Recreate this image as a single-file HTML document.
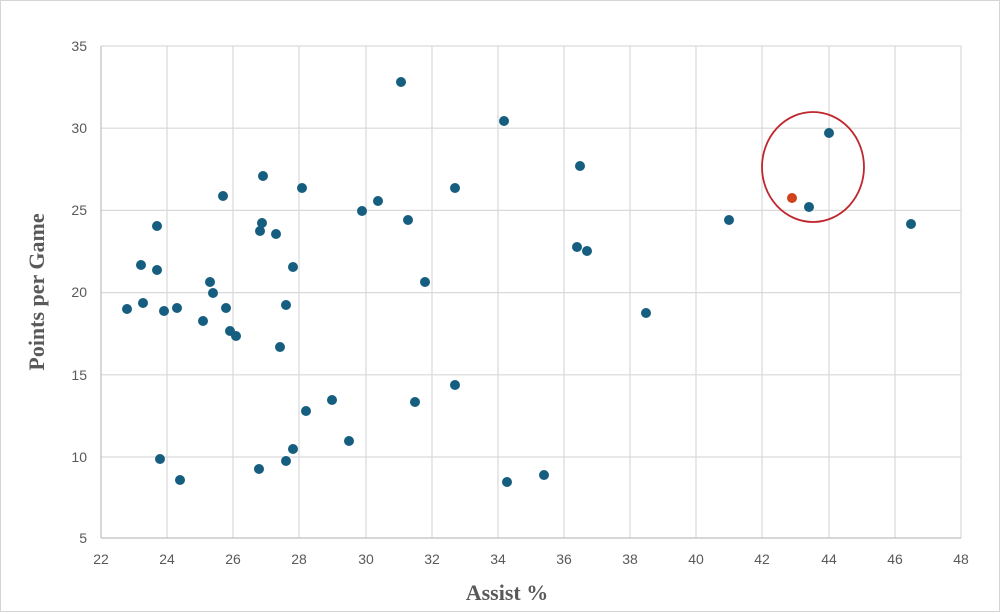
<!DOCTYPE html>
<html><head><style>body{margin:0;background:#fff}svg{display:block}</style></head><body>
<svg width="1000" height="614" xmlns="http://www.w3.org/2000/svg">
<rect x="0.5" y="0.5" width="999" height="611" fill="#fff" stroke="#d4d4d4"/>
<g stroke="#d9d9d9" stroke-width="1.2">
<line x1="101" y1="46" x2="961" y2="46"/><line x1="101" y1="128.2" x2="961" y2="128.2"/><line x1="101" y1="210.4" x2="961" y2="210.4"/><line x1="101" y1="292.6" x2="961" y2="292.6"/><line x1="101" y1="374.8" x2="961" y2="374.8"/><line x1="101" y1="457" x2="961" y2="457"/>
<line x1="167" y1="46" x2="167" y2="538"/><line x1="233" y1="46" x2="233" y2="538"/><line x1="299" y1="46" x2="299" y2="538"/><line x1="366" y1="46" x2="366" y2="538"/><line x1="432" y1="46" x2="432" y2="538"/><line x1="498" y1="46" x2="498" y2="538"/><line x1="564" y1="46" x2="564" y2="538"/><line x1="630" y1="46" x2="630" y2="538"/><line x1="696" y1="46" x2="696" y2="538"/><line x1="762" y1="46" x2="762" y2="538"/><line x1="829" y1="46" x2="829" y2="538"/><line x1="895" y1="46" x2="895" y2="538"/><line x1="961" y1="46" x2="961" y2="538"/>
</g>
<g stroke="#bfbfbf" stroke-width="1.2"><line x1="101" y1="46" x2="101" y2="538"/><line x1="101" y1="538" x2="961" y2="538"/></g>
<g font-family="Liberation Sans, sans-serif" font-size="14" fill="#595959" text-anchor="end">
<text x="87" y="51">35</text><text x="87" y="133">30</text><text x="87" y="215">25</text><text x="87" y="297">20</text><text x="87" y="380">15</text><text x="87" y="462">10</text><text x="87" y="543">5</text>
</g>
<g font-family="Liberation Sans, sans-serif" font-size="14" fill="#595959" text-anchor="middle">
<text x="101" y="564">22</text><text x="167" y="564">24</text><text x="233" y="564">26</text><text x="299" y="564">28</text><text x="366" y="564">30</text><text x="432" y="564">32</text><text x="498" y="564">34</text><text x="564" y="564">36</text><text x="630" y="564">38</text><text x="696" y="564">40</text><text x="762" y="564">42</text><text x="829" y="564">44</text><text x="895" y="564">46</text><text x="961" y="564">48</text>
</g>
<text x="507" y="600" font-family="Liberation Serif, serif" font-weight="bold" font-size="22" fill="#595959" text-anchor="middle">Assist %</text>
<text transform="translate(44,292) rotate(-90)" font-family="Liberation Serif, serif" font-weight="bold" font-size="22" fill="#595959" text-anchor="middle">Points per Game</text>
<g fill="#165e80">
<circle cx="127" cy="309" r="5"/><circle cx="141" cy="265" r="5"/><circle cx="143" cy="303" r="5"/><circle cx="157" cy="226" r="5"/><circle cx="157" cy="270" r="5"/><circle cx="160" cy="459" r="5"/><circle cx="164" cy="311" r="5"/><circle cx="177" cy="308" r="5"/><circle cx="180" cy="480" r="5"/><circle cx="203" cy="321" r="5"/><circle cx="210" cy="282" r="5"/><circle cx="213" cy="293" r="5"/><circle cx="223" cy="196" r="5"/><circle cx="226" cy="308" r="5"/><circle cx="230" cy="331" r="5"/><circle cx="236" cy="336" r="5"/><circle cx="259" cy="469" r="5"/><circle cx="260" cy="231" r="5"/><circle cx="262" cy="223" r="5"/><circle cx="263" cy="176" r="5"/><circle cx="276" cy="234" r="5"/><circle cx="280" cy="347" r="5"/><circle cx="286" cy="305" r="5"/><circle cx="286" cy="461" r="5"/><circle cx="293" cy="267" r="5"/><circle cx="293" cy="449" r="5"/><circle cx="302" cy="188" r="5"/><circle cx="306" cy="411" r="5"/><circle cx="332" cy="400" r="5"/><circle cx="349" cy="441" r="5"/><circle cx="362" cy="211" r="5"/><circle cx="378" cy="201" r="5"/><circle cx="401" cy="82" r="5"/><circle cx="408" cy="220" r="5"/><circle cx="415" cy="402" r="5"/><circle cx="425" cy="282" r="5"/><circle cx="455" cy="188" r="5"/><circle cx="455" cy="385" r="5"/><circle cx="504" cy="121" r="5"/><circle cx="507" cy="482" r="5"/><circle cx="544" cy="475" r="5"/><circle cx="577" cy="247" r="5"/><circle cx="580" cy="166" r="5"/><circle cx="587" cy="251" r="5"/><circle cx="646" cy="313" r="5"/><circle cx="729" cy="220" r="5"/><circle cx="809" cy="207" r="5"/><circle cx="829" cy="133" r="5"/><circle cx="911" cy="224" r="5"/>
</g>
<circle cx="792" cy="198" r="5" fill="#d0421b"/>
<ellipse cx="813" cy="167" rx="51" ry="55" fill="none" stroke="#c0262d" stroke-width="1.8"/>
</svg>
</body></html>
